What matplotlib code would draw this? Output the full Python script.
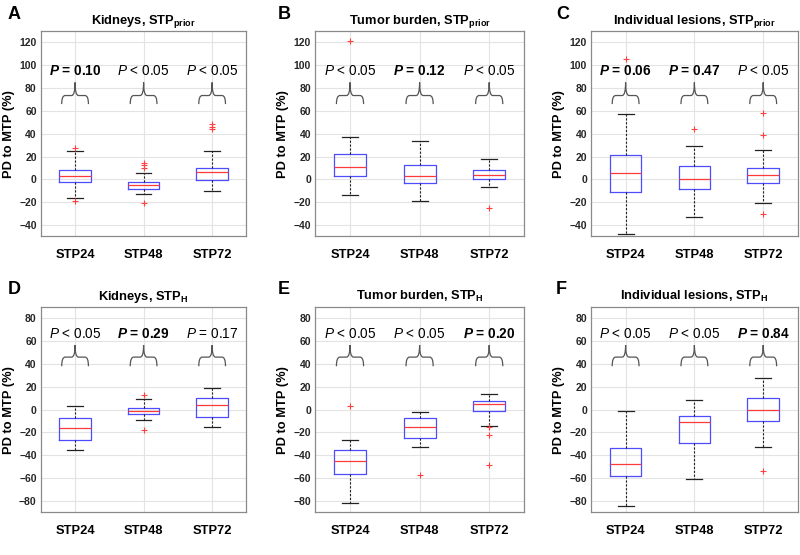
import matplotlib
matplotlib.use("Agg")
import matplotlib.pyplot as plt
from matplotlib.path import Path
from matplotlib.patches import PathPatch

plt.rcParams['font.family'] = ['Liberation Sans', 'DejaVu Sans']
plt.rcParams['mathtext.fontset'] = 'custom'
plt.rcParams['mathtext.rm'] = 'Liberation Sans'
plt.rcParams['mathtext.it'] = 'Liberation Sans:italic'
plt.rcParams['mathtext.bf'] = 'Liberation Sans:bold'
plt.rcParams['mathtext.bfit'] = 'Liberation Sans:bold:italic'

categories = ["STP24", "STP48", "STP72"]
panel_letters = ["A", "B", "C", "D", "E", "F"]
titles = [r"Kidneys, STP$_{\mathbf{prior}}$",
          r"Tumor burden, STP$_{\mathbf{prior}}$",
          r"Individual lesions, STP$_{\mathbf{prior}}$",
          r"Kidneys, STP$_{\mathbf{H}}$",
          r"Tumor burden, STP$_{\mathbf{H}}$",
          r"Individual lesions, STP$_{\mathbf{H}}$"]

# per panel, per category: [whislo, q1, med, q3, whishi]
box_A = [[-16.5, -2.4, 2.9, 8.1, 24.6], [-12.4, -8.6, -4.8, -2.7, 5.5], [-10.6, -0.7, 6.1, 9.9, 24.6]]
box_B = [[-13.5, 3.0, 11.0, 22.3, 37.4], [-18.8, -3.6, 3.3, 12.4, 33.3], [-6.8, 0.7, 3.9, 8.3, 18.2]]
box_C = [[-48.1, -10.8, 5.5, 21.5, 57.3], [-32.7, -8.2, 0.3, 11.6, 29.1], [-20.5, -3.6, 4.0, 9.6, 25.6]]
box_D = [[-35.7, -26.9, -16.2, -7.4, 3.1], [-8.9, -4.2, -1.6, 1.6, 9.2], [-15.3, -6.3, 3.6, 10.1, 18.8]]
box_E = [[-82.3, -56.4, -44.7, -35.7, -26.7], [-32.8, -24.9, -15.3, -7.1, -2.2], [-14.0, -1.6, 4.8, 7.1, 13.6]]
box_F = [[-84.1, -58.1, -47.6, -33.6, -1.0], [-60.5, -29.6, -10.9, -5.4, 8.6], [-33.1, -9.7, -0.7, 9.8, 27.5]]

fliers_A = [[27.5, -18.9], [14.3, 12.3, 10.0, -20.9], [48.7, 46.3, 44.3]]
fliers_B = [[121.5], [], [-24.9]]
fliers_C = [[105.1], [44.0], [58.2, 39.3, -30.7]]
fliers_D = [[], [12.4, -17.9], []]
fliers_E = [[2.8], [-57.5], [-15.0, -22.3, -48.8]]
fliers_F = [[], [], [-54.0]]

pvals_A = [("P = 0.10", True), ("P < 0.05", False), ("P < 0.05", False)]
pvals_B = [("P < 0.05", False), ("P = 0.12", True), ("P < 0.05", False)]
pvals_C = [("P = 0.06", True), ("P = 0.47", True), ("P < 0.05", False)]
pvals_D = [("P < 0.05", False), ("P = 0.29", True), ("P = 0.17", False)]
pvals_E = [("P < 0.05", False), ("P < 0.05", False), ("P = 0.20", True)]
pvals_F = [("P < 0.05", False), ("P < 0.05", False), ("P = 0.84", True)]

boxes = [box_A, box_B, box_C, box_D, box_E, box_F]
fliers = [fliers_A, fliers_B, fliers_C, fliers_D, fliers_E, fliers_F]
pvals = [pvals_A, pvals_B, pvals_C, pvals_D, pvals_E, pvals_F]

ylims = [(-50, 130)] * 3 + [(-90, 90)] * 3
yticks = [list(range(-40, 121, 20))] * 3 + [list(range(-80, 81, 20))] * 3
# brace geometry per row: (bottom, shoulder, tip, text)
brace_top = (66, 73.5, 85, 95)
brace_bot = (38, 46, 56.5, 66)

fig = plt.figure(figsize=(8, 5.55), dpi=100)
lefts = [0.051, 0.394, 0.739]
widths = [0.257, 0.261, 0.258]
bottoms = [0.574, 0.077]
height = 0.370
letter_x = [0.010, 0.3475, 0.695]
letter_y = [0.973, 0.4775]

def draw_brace(ax, x, y0, y1, y2, w=0.195, r=0.05):
    verts = [(x - w, y0), (x - w, y1), (x - w + r, y1), (x - r, y1), (x, y1), (x, y2),
             (x + w, y0), (x + w, y1), (x + w - r, y1), (x + r, y1), (x, y1), (x, y2)]
    codes = [Path.MOVETO, Path.CURVE3, Path.CURVE3, Path.LINETO, Path.CURVE3, Path.CURVE3] * 2
    ax.add_patch(PathPatch(Path(verts, codes), fill=False, edgecolor='#555555', lw=0.9, zorder=3))

for i in range(6):
    r, c = divmod(i, 3)
    ax = fig.add_axes([lefts[c], bottoms[r], widths[c], height])
    stats = []
    for j, cat in enumerate(categories):
        lo, q1, med, q3, hi = boxes[i][j]
        stats.append(dict(whislo=lo, q1=q1, med=med, q3=q3, whishi=hi, fliers=fliers[i][j], label=cat))
    ax.bxp(stats, positions=[1, 2, 3], widths=0.46, showfliers=True,
           boxprops=dict(color='#4d4dff', lw=0.9),
           medianprops=dict(color='#ff3a3a', lw=0.9),
           whiskerprops=dict(color='#222222', lw=0.8, linestyle=(0, (2, 1.5))),
           capprops=dict(color='#222222', lw=0.9),
           flierprops=dict(marker='+', markeredgecolor='#ff4040', markersize=5, markeredgewidth=0.8,
                           linestyle='none'),
           capwidths=0.23)
    ax.set_xlim(0.5, 3.5)
    ax.set_ylim(*ylims[i])
    ax.set_yticks(yticks[i])
    ax.set_xticks([1, 2, 3])
    ax.set_xticklabels(categories, fontsize=9.3, fontweight='bold', color='black')
    for lab in ax.get_yticklabels():
        lab.set_fontweight('bold')
    ax.tick_params(axis='y', labelsize=7.5, colors='#262626', length=0, pad=3)
    ax.tick_params(axis='x', length=0, pad=9)
    ax.grid(True, color='#e3e3e3', lw=0.8)
    ax.set_axisbelow(True)
    for sp in ax.spines.values():
        sp.set_color('#8a8a8a')
        sp.set_linewidth(0.9)
    ax.set_ylabel("PD to MTP (%)", fontsize=9.3, fontweight='bold', labelpad=3)
    ax.set_title(titles[i], fontsize=9.3, fontweight='bold', pad=5)
    geo = brace_top if r == 0 else brace_bot
    for j in range(3):
        draw_brace(ax, j + 1, geo[0], geo[1], geo[2])
        txt, bold = pvals[i][j]
        rest = txt[1:]
        if bold:
            s = r"$\mathbfit{P}$" + rest
            ax.text(j + 1, geo[3], s, ha='center', va='center', fontsize=9.8, fontweight='bold')
        else:
            s = r"$\mathit{P}$" + rest
            ax.text(j + 1, geo[3], s, ha='center', va='center', fontsize=9.8)
    fig.text(letter_x[c], letter_y[r], panel_letters[i],
             fontsize=13, fontweight='bold', ha='left', va='center')

fig.savefig("out.png", dpi=100)
